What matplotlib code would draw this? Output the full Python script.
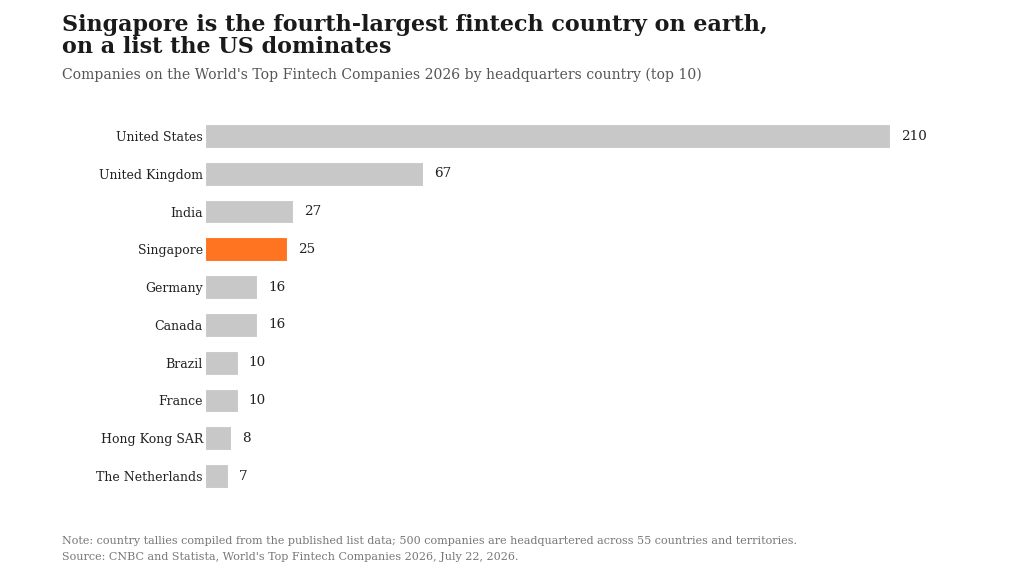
import matplotlib.pyplot as plt

plt.rcParams['font.family'] = 'DejaVu Serif'

countries = ["United States", "United Kingdom", "India", "Singapore", "Germany",
             "Canada", "Brazil", "France", "Hong Kong SAR", "The Netherlands"]
companies = [210, 67, 27, 25, 16, 16, 10, 10, 8, 7]
highlight = "Singapore"

colors = ["#ff7420" if c == highlight else "#c8c8c8" for c in countries]

fig = plt.figure(figsize=(10.24, 5.76), dpi=100)
ax = fig.add_axes([0.2002, 0.1342, 0.7354, 0.669])

bars = ax.barh(range(len(countries)), companies, height=0.63, color=colors,
               edgecolor="white", linewidth=0.8)
ax.set_ylim(9.6, -0.6)
ax.set_xlim(0, 231)
ax.set_yticks(range(len(countries)))
ax.set_yticklabels(countries, fontsize=9, color="#222222")
ax.tick_params(axis="y", length=0, pad=1.5)
ax.set_xticks([])
for s in ax.spines.values():
    s.set_visible(False)

for b, v in zip(bars, companies):
    ax.annotate(str(v), (b.get_width(), b.get_y() + b.get_height() / 2),
                xytext=(8, 0), textcoords="offset points", va="center",
                ha="left", fontsize=9.7, color="#222222")

fig.text(0.0605, 0.975, "Singapore is the fourth-largest fintech country on earth,\non a list the US dominates",
         fontsize=16, fontweight="bold", color="#1a1a1a", va="top", linespacing=1.0)
fig.text(0.0605, 0.870, "Companies on the World's Top Fintech Companies 2026 by headquarters country (top 10)",
         fontsize=10.1, color="#555555", va="center")
fig.text(0.0605, 0.0608, "Note: country tallies compiled from the published list data; 500 companies are headquartered across 55 countries and territories.",
         fontsize=8, color="#777777", va="center")
fig.text(0.0605, 0.033, "Source: CNBC and Statista, World's Top Fintech Companies 2026, July 22, 2026.",
         fontsize=8, color="#777777", va="center")

fig.savefig("out.png", dpi=100)
